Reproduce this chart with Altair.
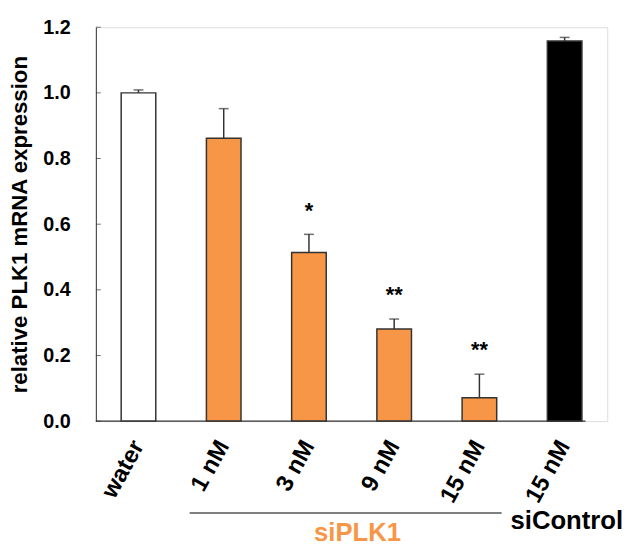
import altair as alt
import pandas as pd

# ---- data ----
keys = ["water", "1 nM", "3 nM", "9 nM", "15 nM", "ctrl 15 nM"]
tick_labels = ["water", "1 nM", "3 nM", "9 nM", "15 nM", "15 nM"]
groups = ["water", "siPLK1", "siPLK1", "siPLK1", "siPLK1", "siControl"]
values = [1.0, 0.862, 0.514, 0.281, 0.071, 1.158]
errors = [0.009, 0.090, 0.055, 0.030, 0.072, 0.011]
stars = ["", "", "*", "**", "**", ""]
y_ticks = [0.0, 0.2, 0.4, 0.6, 0.8, 1.0, 1.2]

group_names = ["water", "siPLK1", "siControl"]
group_colors = ["#FFFFFF", "#F79646", "#000000"]

df = pd.DataFrame({
    "key": keys,
    "group": groups,
    "value": values,
    "err": errors,
    "star": stars,
})
df["top"] = df["value"] + df["err"]

ticks_df = pd.DataFrame({"t": y_ticks})

FONT = "Liberation Sans"
AX = "#333333"

keys_js = "[" + ",".join("'" + k + "'" for k in keys) + "]"
labels_js = "[" + ",".join("'" + k + "'" for k in tick_labels) + "]"
label_expr = f"{labels_js}[indexof({keys_js}, datum.value)]"

x_enc = alt.X(
    "key:N",
    sort=keys,
    scale=alt.Scale(paddingInner=0.594, paddingOuter=0.297),
    axis=alt.Axis(
        title=None,
        labelExpr=label_expr,
        labelAngle=299,
        labelAlign="right",
        labelBaseline="middle",
        labelFont=FONT,
        labelFontSize=24,
        labelFontWeight="bold",
        labelColor="#000000",
        labelPadding=21,
        domain=False,
        ticks=False,
    ),
)

y_scale = alt.Scale(domain=[0, 1.2], nice=False, zero=True)

y_enc = alt.Y(
    "value:Q",
    scale=y_scale,
    axis=alt.Axis(
        title="relative PLK1 mRNA expression",
        values=y_ticks,
        format=".1f",
        ticks=False,
        grid=False,
        domainColor=AX,
        domainWidth=1,
        labelFont=FONT,
        labelFontSize=20,
        labelFontWeight="bold",
        labelColor="#000000",
        labelPadding=26,
        titleFont=FONT,
        titleFontSize=22.5,
        titleFontWeight="bold",
        titleColor="#000000",
        titlePadding=11,
    ),
)

base = alt.Chart(df)

bars = base.mark_bar(stroke=AX, strokeWidth=1.5).encode(
    x=x_enc,
    y=y_enc,
    fill=alt.Color("group:N", scale=alt.Scale(domain=group_names, range=group_colors), legend=None),
)

err_rule = base.mark_rule(color=AX, strokeWidth=1.5).encode(
    x=alt.X("key:N", sort=keys),
    y=alt.Y("value:Q", scale=y_scale),
    y2="top:Q",
)

err_cap = base.mark_tick(color=AX, thickness=1.5, size=10).encode(
    x=alt.X("key:N", sort=keys),
    y=alt.Y("top:Q", scale=y_scale),
)

star_text = base.mark_text(
    font=FONT, fontSize=22, fontWeight="bold", color="#000000", baseline="middle", dy=-24
).encode(
    x=alt.X("key:N", sort=keys),
    y=alt.Y("top:Q", scale=y_scale),
    text="star:N",
)

y_tick_marks = alt.Chart(ticks_df).mark_tick(color=AX, thickness=1, size=5).encode(
    y=alt.Y("t:Q", scale=y_scale),
    x=alt.value(2.5),
)

baseline = alt.Chart(pd.DataFrame({"b": [0.0]})).mark_rule(color=AX, strokeWidth=1.5).encode(
    y=alt.Y("b:Q", scale=y_scale),
    x=alt.value(0),
    x2=alt.value(496),
)

group_line = alt.Chart(pd.DataFrame({"g": ["siPLK1"]})).mark_rule(color="#555555", strokeWidth=1.5).encode(
    x=alt.value(95), x2=alt.value(411), y=alt.value(492)
)

label_plk = alt.Chart(pd.DataFrame({"g": ["siPLK1"]})).mark_text(
    font=FONT, fontSize=26, fontWeight="bold", color="#F79646", align="center", baseline="alphabetic"
).encode(x=alt.value(265), y=alt.value(520), text="g:N")

label_ctrl = alt.Chart(pd.DataFrame({"g": ["siControl"]})).mark_text(
    font=FONT, fontSize=26, fontWeight="bold", color="#000000", align="center", baseline="alphabetic"
).encode(x=alt.value(477), y=alt.value(508), text="g:N")

chart = alt.layer(
    bars, err_rule, err_cap, star_text, y_tick_marks, baseline, group_line, label_plk, label_ctrl
).properties(
    width=518,
    height=399,
    padding={"left": 89, "top": 16, "right": 20, "bottom": 122},
    autosize=alt.AutoSizeParams(type="none"),
).configure_view(stroke=None).configure(background="#FFFFFF")

chart.save("out.html", embed_options={"renderer": "svg", "actions": False})
